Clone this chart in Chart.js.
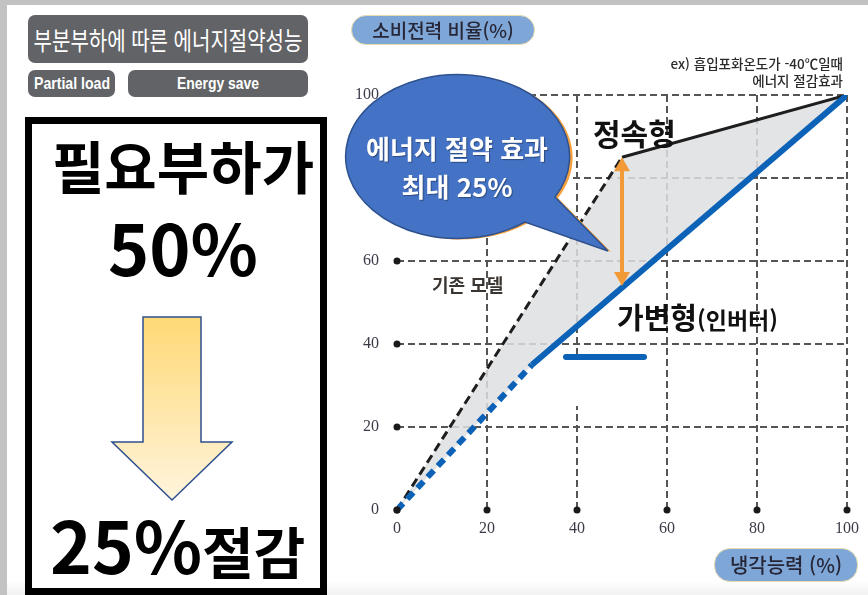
<!DOCTYPE html>
<html lang="ko">
<head>
<meta charset="utf-8">
<script src="https://cdn.jsdelivr.net/npm/chart.js@4.4.1/dist/chart.umd.min.js"></script>
<style>
  html, body { margin: 0; padding: 0; }
  body { width: 868px; height: 595px; position: relative; overflow: hidden; background: #fff;
         font-family: "Noto Sans CJK KR", "Noto Sans", sans-serif; }
  .abs { position: absolute; white-space: nowrap; }
  .frameL { left: 0; top: 0; width: 7px; height: 595px; background: #c2c2c2; }
  .frameT { left: 0; top: 0; width: 868px; height: 5px; background: #c2c2c2; }
  .floor { left: 0; top: 580px; width: 868px; height: 15px; background: linear-gradient(#fff, #f1f1f1); }
  .tag { background: #626366; border-radius: 7px; color: #fff; overflow: hidden; }
  .tag span { position: absolute; left: 50%; top: 0; white-space: nowrap; }
  .tag.en { font-family: 'Liberation Sans'; font-weight: 700; font-size: 17px; height: 27px; line-height: 27px; top: 70px; }
  .pill { background: #7ea6d7; border: 1.5px solid #e8dcae; border-radius: 16px; color: #262636;
          text-align: center; box-sizing: border-box; font-weight: 500; }
  .box { left: 25px; top: 117px; width: 302px; height: 478px; border: 7px solid #000; box-sizing: border-box; background: #fff; }
  .big { font-weight: 700; color: #000; line-height: 1; }
  #chart { position: absolute; left: 340px; top: 0; }
</style>
</head>
<body>
<div class="abs floor"></div>
<div class="abs frameL"></div>
<div class="abs frameT"></div>

<!-- left panel -->
<div class="abs tag" style="left:28px;top:15px;width:280px;height:48px;line-height:48px;font-size:25px;">
  <span style="transform:translateX(-50%) scaleX(0.8);">부분부하에 따른 에너지절약성능</span></div>
<div class="abs tag en" style="left:28px;width:87px;">
  <span style="transform:translateX(-50%) scaleX(0.83);">Partial load</span></div>
<div class="abs tag en" style="left:128px;width:180px;">
  <span style="transform:translateX(-50%) scaleX(0.82);">Energy save</span></div>

<div class="abs box"></div>
<div class="abs big" style="left:25px;width:316px;text-align:center;top:136px;font-size:57px;">필요부하가</div>
<div class="abs big" style="left:25px;width:316px;text-align:center;top:211px;font-size:70px;">50%</div>
<svg class="abs" style="left:0;top:0" width="340" height="595">
  <defs>
    <linearGradient id="ag" x1="0" y1="0" x2="0" y2="1">
      <stop offset="0" stop-color="#ffd976"/>
      <stop offset="1" stop-color="#fff4dc"/>
    </linearGradient>
  </defs>
  <polygon points="143,317 201,317 201,442 232,442 172,500 112,442 143,442"
           fill="url(#ag)" stroke="#2e4f8e" stroke-width="1.5"/>
</svg>
<div class="abs big" style="left:50px;top:508px;">
  <span style="font-size:71px;">25%</span><span style="font-size:56px;">절감</span></div>

<!-- right panel -->
<canvas id="chart" width="528" height="595"></canvas>

<div class="abs pill" style="left:351px;top:15px;width:184px;height:30px;line-height:27px;font-size:19px;">소비전력 비율(%)</div>
<div class="abs pill" style="left:714px;top:548px;width:144px;height:34px;line-height:31px;font-size:20px;">냉각능력 (%)</div>
<div class="abs" style="right:25px;top:55px;text-align:right;font-size:13.5px;line-height:17px;color:#2a2a2a;font-weight:500;">
  ex) 흡입포화온도가 -40℃일때<br>에너지 절감효과</div>

<div class="abs" style="left:553px;top:360px;width:100px;height:46px;background:#fff;"></div>
<div class="abs" style="left:563px;top:354px;width:84px;height:6px;background:#0b62b6;border-radius:3px;"></div>

<svg class="abs" style="left:0;top:0" width="868" height="595">
  <path d="M 555 197 L 608 251 L 525 222 A 112 82 0 1 1 555 197 Z" fill="#f5a03d" transform="translate(3,1)"/>
  <path d="M 555 197 L 608 251 L 525 222 A 112 82 0 1 1 555 197 Z" fill="#4472c4" stroke="#2f528f" stroke-width="1.5"/>
</svg>
<div class="abs" style="left:345px;width:224px;text-align:center;top:129px;font-size:26px;line-height:38px;color:#fff;font-weight:700;text-shadow:1px 1px 1px rgba(0,0,0,0.35);">
  에너지 절약 효과<br>최대 25%</div>

<div class="abs" style="left:593px;top:114px;font-size:30px;font-weight:700;color:#111;line-height:36px;">정속형</div>
<div class="abs" style="left:432px;top:272px;font-size:18px;font-weight:700;color:#3a3530;line-height:24px;">기존 모델</div>
<div class="abs" style="left:617px;top:298px;font-weight:700;color:#111;line-height:36px;">
  <span style="font-size:29px;">가변형</span><span style="font-size:23px;">(인버터)</span></div>

<script>
// 냉각능력(%) vs 소비전력 비율(%)
const xTicks = [0, 20, 40, 60, 80, 100];
const yTicks = [0, 20, 40, 60, 80, 100];

const fixedLoad = [0, 50, 100];     // 정속형 / 기존 모델
const fixedPower = [0, 85, 100];
const invLoad = [0, 30, 100];       // 가변형(인버터)
const invPower = [0, 35, 100];

// 최대 절약 효과 화살표 (부하 50%)
const saveAt = 50;
const saveFrom = 85;
const saveTo = 54;

const toXY = (xs, ys) => xs.map((x, i) => ({ x: x, y: ys[i] }));

const tickDots = {
  id: 'tickDots',
  afterDatasetsDraw(chart) {
    const c = chart.ctx, xs = chart.scales.x, ys = chart.scales.y;
    c.save();
    c.fillStyle = '#1a1a1a';
    xTicks.forEach(v => {
      c.beginPath();
      c.arc(xs.getPixelForValue(v), ys.getPixelForValue(0), 3.5, 0, Math.PI * 2);
      c.fill();
    });
    yTicks.forEach(v => {
      c.beginPath();
      c.arc(xs.getPixelForValue(0), ys.getPixelForValue(v), 3.5, 0, Math.PI * 2);
      c.fill();
    });
    c.restore();
  }
};

const saveArrow = {
  id: 'saveArrow',
  afterDatasetsDraw(chart) {
    const c = chart.ctx, xs = chart.scales.x, ys = chart.scales.y;
    const x = xs.getPixelForValue(saveAt);
    const y1 = ys.getPixelForValue(saveFrom);
    const y2 = ys.getPixelForValue(saveTo);
    c.save();
    c.strokeStyle = '#f39a38';
    c.fillStyle = '#f39a38';
    c.lineWidth = 4;
    c.beginPath();
    c.moveTo(x, y1 + 10);
    c.lineTo(x, y2 - 10);
    c.stroke();
    c.beginPath();
    c.moveTo(x, y1); c.lineTo(x - 8, y1 + 14); c.lineTo(x + 8, y1 + 14); c.closePath();
    c.fill();
    c.beginPath();
    c.moveTo(x, y2); c.lineTo(x - 8, y2 - 14); c.lineTo(x + 8, y2 - 14); c.closePath();
    c.fill();
    c.restore();
  }
};

const gridColor = ctx => (ctx.tick && ctx.tick.value === 0) ? 'rgba(0,0,0,0)' : '#555';

new Chart(document.getElementById('chart'), {
  type: 'line',
  data: {
    datasets: [
      {
        label: '정속형',
        data: toXY(fixedLoad, fixedPower),
        order: 2,
        borderColor: '#1e1e1e',
        borderWidth: 3,
        pointRadius: 0,
        fill: '+1',
        backgroundColor: 'rgba(222,223,226,0.85)',
        segment: { borderDash: ctx => ctx.p0DataIndex === 0 ? [9, 5] : undefined }
      },
      {
        label: '가변형(인버터)',
        data: toXY(invLoad, invPower),
        order: 1,
        borderColor: '#0b62b6',
        borderWidth: 6,
        pointRadius: 0,
        fill: false,
        segment: { borderDash: ctx => ctx.p0DataIndex === 0 ? [9, 6] : undefined }
      }
    ]
  },
  options: {
    responsive: false,
    devicePixelRatio: 1,
    animation: false,
    layout: { padding: { left: 0, right: 20, top: 95, bottom: 55 } },
    plugins: { legend: { display: false }, tooltip: { enabled: false } },
    scales: {
      x: {
        type: 'linear', min: 0, max: 100,
        afterBuildTicks: s => { s.ticks = xTicks.map(v => ({ value: v })); },
        afterFit: s => { s.height = 30; },
        ticks: { padding: 9, color: '#3c3a48', font: { family: 'Liberation Serif', size: 16 } },
        grid: { color: gridColor, lineWidth: 2, drawTicks: false },
        border: { display: false, dash: [7, 4] }
      },
      y: {
        type: 'linear', min: 0, max: 100,
        afterBuildTicks: s => { s.ticks = yTicks.map(v => ({ value: v })); },
        afterFit: s => { s.width = 57; },
        ticks: { padding: 18, color: '#3c3a48', font: { family: 'Liberation Serif', size: 16 } },
        grid: { color: gridColor, lineWidth: 2, drawTicks: false },
        border: { display: false, dash: [7, 4] }
      }
    }
  },
  plugins: [tickDots, saveArrow]
});
</script>
</body>
</html>
